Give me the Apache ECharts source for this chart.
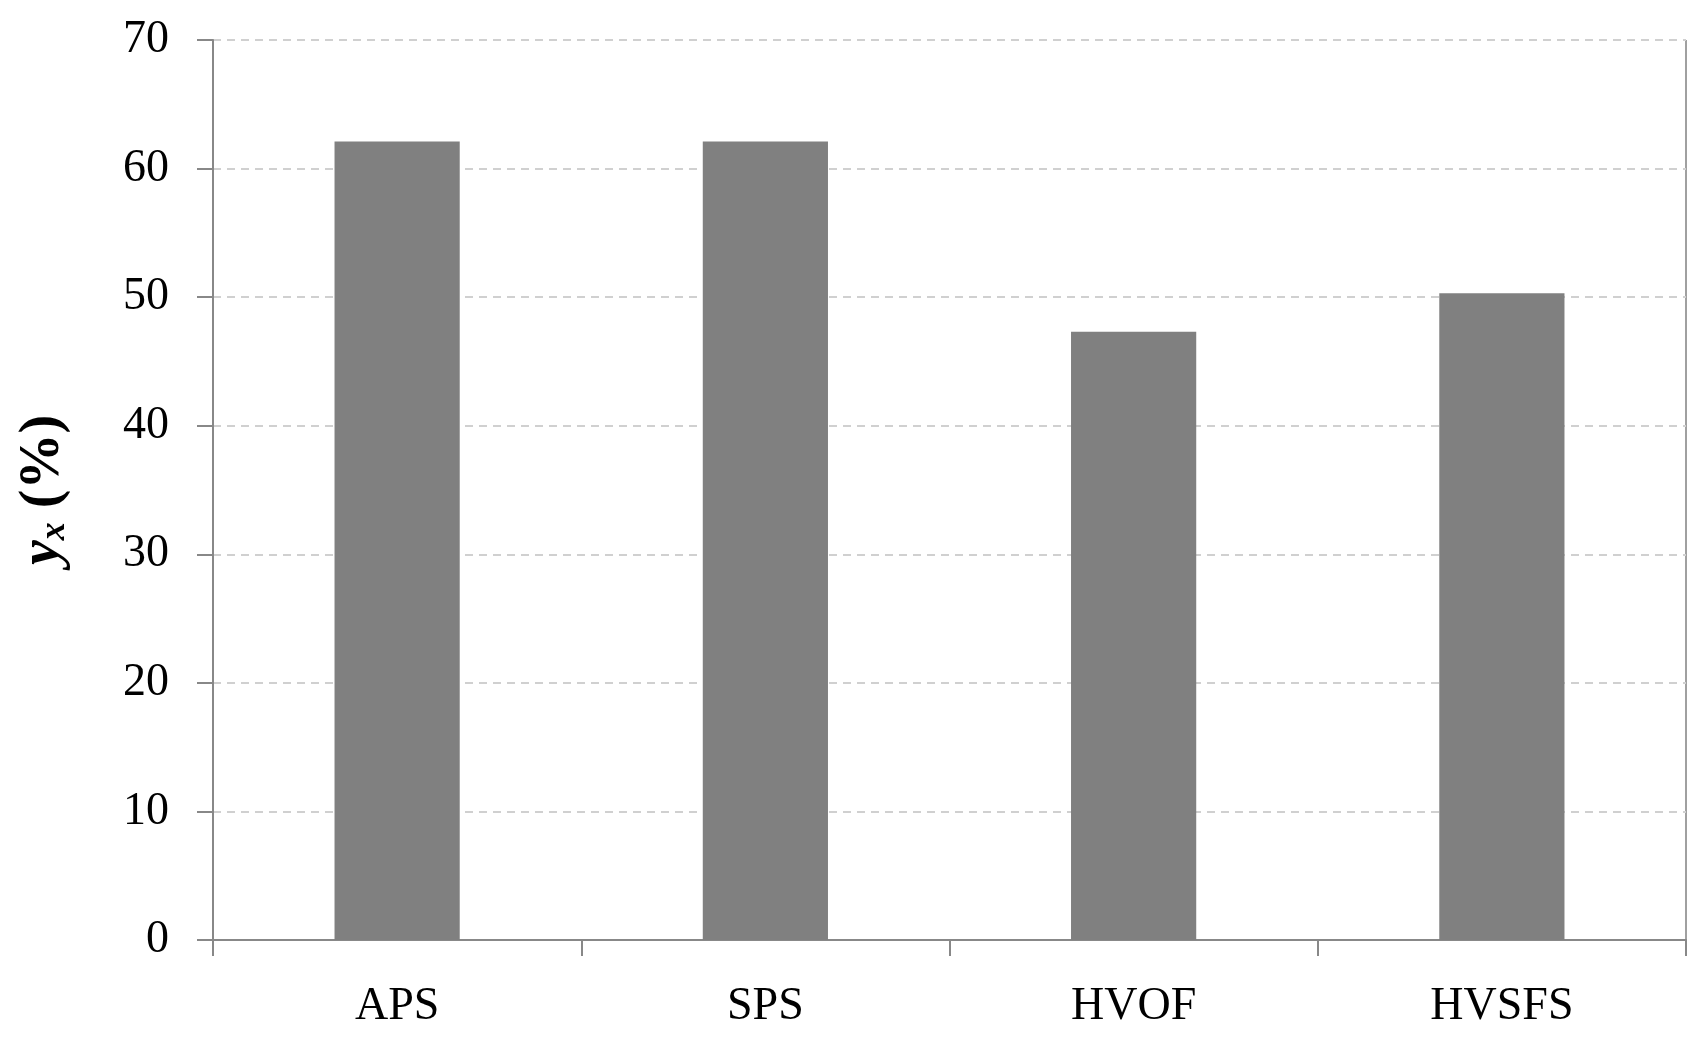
<!DOCTYPE html>
<html>
<head>
<meta charset="utf-8">
<script src="https://cdn.jsdelivr.net/npm/echarts@6/dist/echarts.min.js"></script>
<style>html,body{margin:0;padding:0;background:#fff}#chart{width:1697px;height:1042px}</style>
</head>
<body>
<div id="chart"></div>
<script>
var categories = ['APS', 'SPS', 'HVOF', 'HVSFS'];
var values = [62.1, 62.1, 47.3, 50.3];
var yTicks = [0, 10, 20, 30, 40, 50, 60, 70];

var font = 'Liberation Serif';
var chart = echarts.init(document.getElementById('chart'));
chart.setOption({
    animation: false,
    grid: { left: 213, right: 11, top: 40, bottom: 102, containLabel: false },
    xAxis: {
        type: 'category',
        data: categories,
        axisLine: { lineStyle: { color: '#888', width: 2 } },
        axisTick: { show: true, length: 16, lineStyle: { color: '#888', width: 2 } },
        axisLabel: { color: '#000', fontFamily: font, fontSize: 46, margin: 44 }
    },
    yAxis: {
        type: 'value',
        min: yTicks[0],
        max: yTicks[yTicks.length - 1],
        interval: 10,
        name: '{i|y}{s|x}{n| (%)}',
        nameLocation: 'middle',
        nameGap: 140,
        nameTextStyle: {
            rich: {
                i: { fontFamily: font, fontSize: 56, fontWeight: 'bold', fontStyle: 'italic', color: '#000' },
                s: { fontFamily: font, fontSize: 36, fontWeight: 'bold', fontStyle: 'italic', color: '#000', padding: [22, 0, 0, 0] },
                n: { fontFamily: font, fontSize: 56, fontWeight: 'bold', color: '#000' }
            }
        },
        axisLine: { show: true, lineStyle: { color: '#888', width: 2 } },
        axisTick: { show: true, length: 16, lineStyle: { color: '#888', width: 2 } },
        axisLabel: { color: '#000', fontFamily: font, fontSize: 46, margin: 44 },
        splitLine: { lineStyle: { color: '#d0d0d0', width: 2, type: [8, 6] } }
    },
    series: [{
        type: 'bar',
        data: values,
        barWidth: '34%',
        itemStyle: { color: '#808080' }
    }],
    graphic: [{
        type: 'line',
        shape: { x1: 1686, y1: 40, x2: 1686, y2: 940 },
        style: { stroke: '#a0a0a0', lineWidth: 2 }
    }]
});
</script>
</body>
</html>
